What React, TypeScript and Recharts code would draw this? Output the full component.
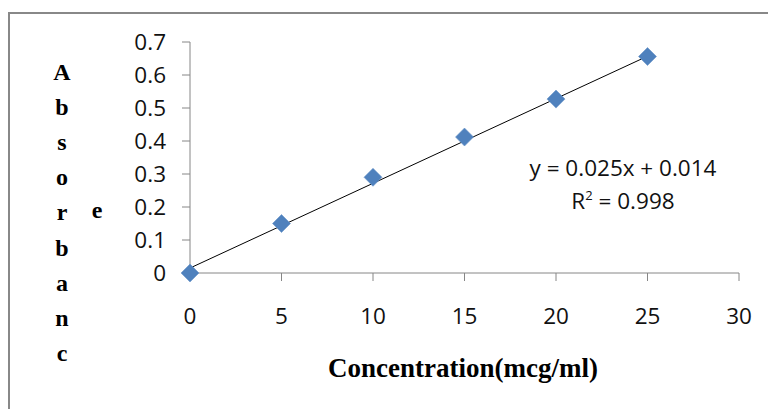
import React from "react";
import { ReferenceLine, Scatter, ScatterChart, XAxis, YAxis } from "recharts";

// concentration (mcg/ml) vs absorbance
const concentration = [0, 5, 10, 15, 20, 25];
const absorbance = [0, 0.15, 0.29, 0.412, 0.527, 0.656];
const xTicks = [0, 5, 10, 15, 20, 25, 30];
const yTicks = [0, 0.1, 0.2, 0.3, 0.4, 0.5, 0.6, 0.7];
// linear trendline end points
const trendX = [0, 25];
const trendY = [0.015, 0.657];
const yLetters = ["A", "b", "s", "o", "r", "b", "a", "n", "c"];

const points = concentration.map((x, i) => ({ x, y: absorbance[i] }));

const W = 768;
const H = 409;
const AXIS = "#868686";
const BLUE = "#4F81BD";

const Diamond = (props: any) => {
  const { cx, cy } = props;
  const r = 9;
  return (
    <polygon
      points={`${cx},${cy - r} ${cx + r},${cy} ${cx},${cy + r} ${cx - r},${cy}`}
      fill={BLUE}
      stroke="#6b95c9"
      strokeWidth={0.6}
    />
  );
};

const serif = { fontFamily: "'Liberation Serif', 'Times New Roman', serif", fontWeight: 700, color: "#000" };
const tickStyle = { fill: "#111", fontSize: 22.5, fontFamily: "'Open Sans', sans-serif" };

export default function App() {
  return (
    <div style={{ position: "fixed", left: 0, top: 0, width: W, height: H, overflow: "hidden", background: "#fff" }}>
      <div style={{ position: "absolute", left: 8, top: 12, width: 900, height: 600, border: "2px solid #888" }} />
      <div style={{ position: "absolute", left: 0, top: 0 }}>
        <ScatterChart width={W} height={H} margin={{ top: 42, right: 29, bottom: 0, left: 110 }}>
          <XAxis
            type="number"
            dataKey="x"
            domain={[0, 30]}
            ticks={xTicks}
            interval={0}
            stroke={AXIS}
            tickSize={8}
            tickMargin={27}
            height={136}
            tick={tickStyle}
          />
          <YAxis
            type="number"
            dataKey="y"
            domain={[0, 0.7]}
            ticks={yTicks}
            interval={0}
            stroke={AXIS}
            tickSize={8}
            tickMargin={16}
            width={80}
            tick={tickStyle}
          />
          <ReferenceLine
            segment={[
              { x: trendX[0], y: trendY[0] },
              { x: trendX[1], y: trendY[1] },
            ]}
            stroke="#000"
            strokeWidth={1}
            ifOverflow="visible"
          />
          <Scatter data={points} shape={Diamond} isAnimationActive={false} />
        </ScatterChart>
      </div>
      {yLetters.map((ch, i) => (
        <div
          key={i}
          style={{ ...serif, position: "absolute", left: 52, width: 20, textAlign: "center", top: 72 + i * 35.1 - 14, fontSize: 24, lineHeight: "28px" }}
        >
          {ch}
        </div>
      ))}
      <div style={{ ...serif, position: "absolute", left: 87, width: 20, textAlign: "center", top: 210 - 14, fontSize: 24, lineHeight: "28px" }}>
        e
      </div>
      <div style={{ ...serif, position: "absolute", left: 263, width: 400, textAlign: "center", top: 368 - 16, fontSize: 27, lineHeight: "32px" }}>
        Concentration(mcg/ml)
      </div>
      <div
        style={{
          position: "absolute",
          left: 513,
          width: 220,
          top: 151,
          textAlign: "center",
          fontFamily: "'Open Sans', sans-serif",
          fontSize: 22.5,
          lineHeight: "33px",
          color: "#111",
        }}
      >
        <div>y = 0.025x + 0.014</div>
        <div>
          R<sup style={{ fontSize: 13, verticalAlign: "9px", lineHeight: 0 }}>2</sup> = 0.998
        </div>
      </div>
    </div>
  );
}
